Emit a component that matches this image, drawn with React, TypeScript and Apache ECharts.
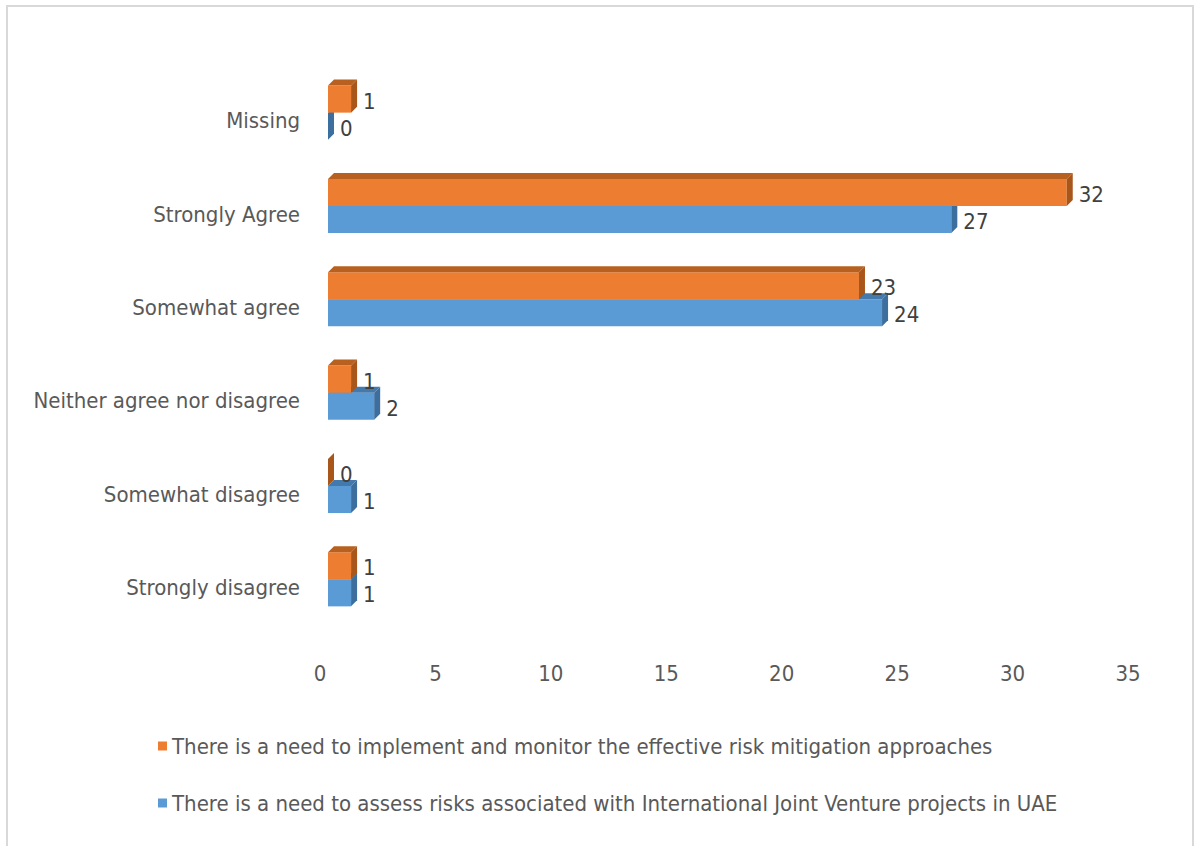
import React, { useEffect, useRef } from "react";
import * as echarts from "echarts";

// Response categories, bottom to top on the value-by-category bar chart
const categories = [
  "Strongly disagree",
  "Somewhat disagree",
  "Neither agree nor disagree",
  "Somewhat agree",
  "Strongly Agree",
  "Missing",
];

const implementName =
  "There is a need to implement and monitor the effective risk mitigation approaches";
const assessName =
  "There is a need to assess risks associated with International Joint Venture projects in UAE";

const implementValues = [1, 0, 1, 23, 32, 1];
const assessValues = [1, 1, 2, 24, 27, 0];

const xTicks = [0, 5, 10, 15, 20, 25, 30, 35];

const FONT = "'DejaVu Sans Condensed', 'Liberation Sans Narrow', sans-serif";

type Palette = { front: string; top: string; side: string };

const orange: Palette = { front: "#ED7D31", top: "#B8601F", side: "#A9561A" };
const blue: Palette = { front: "#5B9BD5", top: "#4479AE", side: "#3C6E9E" };

// Draws a bar with a front face, a top face and a right side face so it reads as a block
function blockBar(position: "upper" | "lower", pal: Palette) {
  return (_params: any, api: any) => {
    const v = api.value(0);
    const ci = api.value(1);
    const base = api.coord([0, ci]);
    const end = api.coord([v, ci]);
    const band = api.size([0, 1])[1];
    const h = band * 0.29;
    const lift = band * 0.086;
    const floorShift = 8;
    const dx = 6;
    const dy = 6;
    const x0 = base[0] + floorShift;
    const x1 = end[0] + floorShift;
    const yTop = position === "upper" ? base[1] - lift - h : base[1] - lift;
    const yBot = yTop + h;
    return {
      type: "group",
      children: [
        {
          type: "rect",
          shape: { x: x0, y: yTop, width: Math.max(0, x1 - x0), height: h },
          style: { fill: pal.front },
        },
        {
          type: "polygon",
          shape: {
            points: [
              [x0, yTop],
              [x0 + dx, yTop - dy],
              [x1 + dx, yTop - dy],
              [x1, yTop],
            ],
          },
          style: { fill: pal.top },
        },
        {
          type: "polygon",
          shape: {
            points: [
              [x1, yTop],
              [x1 + dx, yTop - dy],
              [x1 + dx, yBot - dy],
              [x1, yBot],
            ],
          },
          style: { fill: pal.side },
        },
        {
          type: "text",
          z2: 100,
          style: {
            text: String(v),
            x: x1 + dx + 6,
            y: (yTop + yBot) / 2 + 2,
            align: "left",
            verticalAlign: "middle",
            fill: "#404040",
            fontSize: 22,
            fontFamily: FONT,
          },
        },
      ],
    };
  };
}

export default function App() {
  const ref = useRef<HTMLDivElement>(null);

  useEffect(() => {
    if (!ref.current) return;
    const chart = echarts.init(ref.current, null, { renderer: "svg" });

    const implementData = implementValues.map((v, i) => [v, i]);
    const assessData = assessValues.map((v, i) => [v, i]);

    chart.setOption({
      animation: false,
      backgroundColor: "#ffffff",
      graphic: [
        {
          type: "rect",
          shape: { x: 7, y: 6, width: 1186, height: 846 },
          style: { fill: "none", stroke: "#d9d9d9", lineWidth: 2 },
          silent: true,
        },
      ],
      grid: {
        left: 320,
        right: 70,
        top: 74,
        bottom: 212,
        containLabel: false,
        outerBoundsMode: "none",
      },
      xAxis: {
        type: "value",
        min: xTicks[0],
        max: xTicks[xTicks.length - 1],
        interval: 5,
        axisLine: { show: false },
        axisTick: { show: false },
        splitLine: { show: false },
        axisLabel: {
          margin: 28,
          fontSize: 22,
          fontFamily: FONT,
          color: "#595959",
        },
      },
      yAxis: {
        type: "category",
        data: categories,
        axisLine: { show: false },
        axisTick: { show: false },
        splitLine: { show: false },
        axisLabel: {
          margin: 20,
          fontSize: 22,
          fontFamily: FONT,
          color: "#595959",
        },
      },
      legend: {
        orient: "vertical",
        left: 158,
        top: 733,
        padding: 0,
        icon: "rect",
        itemWidth: 9,
        itemHeight: 9,
        itemGap: 31,
        data: [implementName, assessName],
        textStyle: {
          fontSize: 22,
          lineHeight: 26,
          fontFamily: FONT,
          color: "#595959",
        },
      },
      series: [
        {
          name: assessName,
          type: "custom",
          itemStyle: { color: blue.front },
          encode: { x: 0, y: 1 },
          data: assessData,
          renderItem: blockBar("lower", blue),
        },
        {
          name: implementName,
          type: "custom",
          itemStyle: { color: orange.front },
          encode: { x: 0, y: 1 },
          data: implementData,
          renderItem: blockBar("upper", orange),
        },
      ],
    });

    return () => chart.dispose();
  }, []);

  return (
    <div
      ref={ref}
      style={{ position: "absolute", left: 0, top: 0, width: 1198, height: 846, background: "#fff" }}
    />
  );
}
